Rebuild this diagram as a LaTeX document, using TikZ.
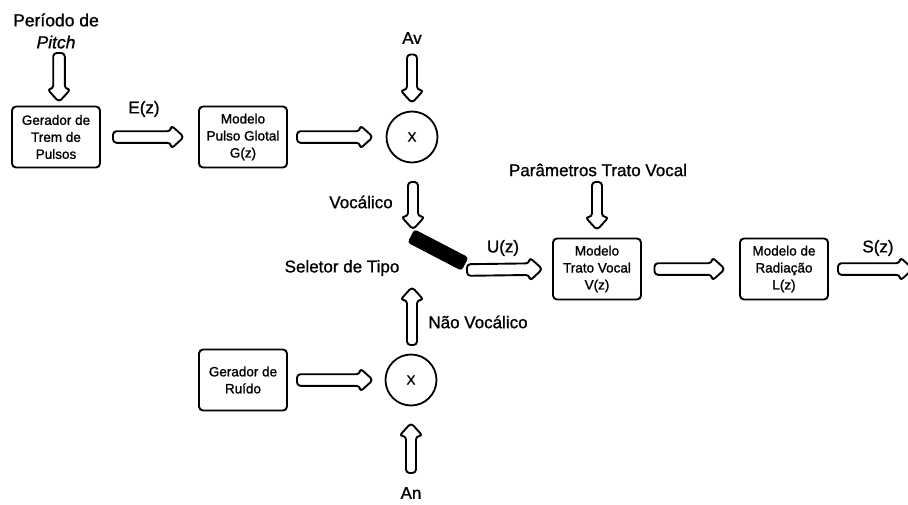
\documentclass[tikz,border=0pt]{standalone}
\usepackage{fontspec}
\setmainfont{Liberation Sans}
\newfontfamily\boxfont[FakeBold=1.3]{Liberation Sans}
\newfontfamily\lblfont[FakeBold=1.1]{Liberation Sans}
\usetikzlibrary{calc}
\tikzset{
  box/.style={draw, line width=1.9pt, rounded corners=4pt, minimum width=88pt, minimum height=61pt,
    align=center, font=\boxfont\fontsize{13.5}{17}\selectfont, inner sep=0pt, outer sep=0pt},
  lbl/.style={font=\lblfont\fontsize{17}{22}\selectfont, inner sep=0pt, outer sep=0pt, align=center},
  mult/.style={draw, circle, line width=1.8pt, minimum size=51pt, inner sep=0pt, outer sep=0pt,
    font=\boxfont\fontsize{13.5}{17}\selectfont},
  barrow/.style={draw, line width=1.9pt, rounded corners=3.5pt, fill=white, line join=round},
  switchbar/.style={fill=black, rounded corners=3pt, minimum width=61pt, minimum height=15pt,
    inner sep=0pt, outer sep=0pt},
}
\newcommand\blockarrow[3][5.8pt]{%
  \coordinate (ba-s) at (#2);
  \coordinate (ba-e) at (#3);
  \coordinate (ba-n) at ($(ba-e)!13pt!(ba-s)$);
  \draw[barrow] ($(ba-s)!#1!90:(ba-e)$) -- ($(ba-n)!#1!-90:(ba-s)$) -- ($(ba-n)!11.8pt!-90:(ba-s)$)
    -- (ba-e) -- ($(ba-n)!11.8pt!90:(ba-s)$) -- ($(ba-n)!#1!90:(ba-s)$) -- ($(ba-s)!#1!-90:(ba-e)$) -- cycle;
}
\begin{document}
\begin{tikzpicture}[x=1pt,y=-1pt]
\useasboundingbox (0,0) rectangle (908,504);
\clip (0,0) rectangle (908,504);

% blocks
\node[box] (gen) at (56,137) {Gerador de\\Trem de\\Pulsos};
\node[box] (glot) at (243,137) {Modelo\\Pulso Glotal\\G(z)};
\node[mult] (mv) at (412,137) {X};
\node[box] (noise) at (243,380) {Gerador de\\Ruído};
\node[mult] (mn) at (411,380) {X};
\node[box] (tract) at (597,269) {Modelo\\Trato Vocal\\V(z)};
\node[box] (rad) at (784,269) {Modelo de\\Radiação\\L(z)};

% labels
\node[lbl, font=\lblfont\fontsize{17.5}{22}\selectfont] (pitch) at (56,31) {Período de\\\textit{Pitch}};
\node[lbl] (ez) at (144,109) {E(z)};
\node[lbl] (av) at (412,38) {Av};
\node[lbl] (voc) at (361,202) {Vocálico};
\node[lbl] (sel) at (342,268) {Seletor de Tipo};
\node[lbl] (uz) at (503,248) {U(z)};
\node[lbl] (nvoc) at (478,322) {Não Vocálico};
\node[lbl] (an) at (411,493) {An};
\node[lbl] (par) at (598,170) {Parâmetros Trato Vocal};
\node[lbl] (sz) at (878,248) {S(z)};

% switch
\node[switchbar, rotate=-27.5] (sw) at (438,250) {};

% block arrows
\blockarrow{[xshift=3pt,yshift=53.5pt]gen.north}{[xshift=3pt,yshift=4.5pt]gen.north}
\blockarrow{[xshift=13pt]gen.east}{[xshift=-15pt]glot.west}
\blockarrow{[xshift=10pt]glot.east}{[xshift=-13.5pt]mv.west}
\blockarrow[5pt]{[yshift=57pt]mv.north}{[yshift=8.5pt]mv.north}
\blockarrow[5pt]{[xshift=1pt,yshift=-19.5pt]mv.south}{[xshift=1pt,yshift=-67pt]mv.south}
\blockarrow{[xshift=29pt,yshift=-20pt]sw.center}{[xshift=-10.5pt]tract.west}
\blockarrow[5pt]{[xshift=1pt,yshift=9.5pt]mn.north}{[xshift=1pt,yshift=67.5pt]mn.north}
\blockarrow{[xshift=10pt]noise.east}{[xshift=-12.5pt]mn.west}
\blockarrow[5pt]{[yshift=-67.5pt]mn.south}{[yshift=-17.5pt]mn.south}
\blockarrow[5pt]{[yshift=56.5pt]tract.north}{[yshift=8.5pt]tract.north}
\blockarrow{[xshift=13.5pt]tract.east}{[xshift=-15pt]rad.west}
\blockarrow{[xshift=10pt]rad.east}{[xshift=85pt]rad.east}
\end{tikzpicture}
\end{document}
